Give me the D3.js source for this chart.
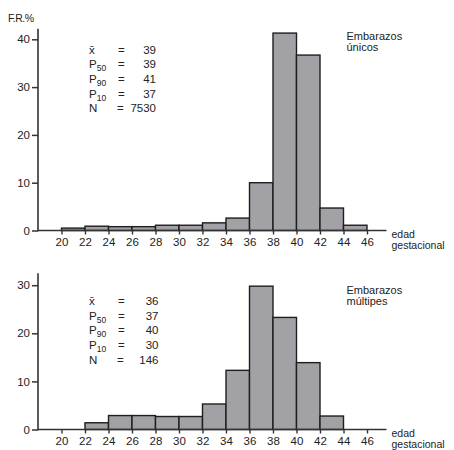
<!DOCTYPE html>
<html><head><meta charset="utf-8">
<script src="https://cdn.jsdelivr.net/npm/d3@7/dist/d3.min.js"></script>
<style>body{margin:0;background:#fff}svg{display:block}text{font-family:"Liberation Sans",Arial,sans-serif;fill:#222}</style>
</head><body><svg id="c" width="454" height="450"></svg>
<script>
const binStarts = [20,22,24,26,28,30,32,34,36,38,40,42,44];
const unicosValues = [0.5,0.9,0.8,0.8,1.1,1.1,1.6,2.6,10.0,41.3,36.7,4.7,1.1];
const multiplesValues = [0,1.4,2.9,2.9,2.7,2.7,5.3,12.3,29.8,23.3,13.9,2.8,0];
const xTicks = [20,22,24,26,28,30,32,34,36,38,40,42,44,46];
const unicosYTicks = [0,10,20,30,40];
const multiplesYTicks = [0,10,20,30];
const unicosStats = [["x̄","39"],["P","39","50"],["P","41","90"],["P","37","10"],["N","7530"]];
const multiplesStats = [["x̄","36"],["P","37","50"],["P","40","90"],["P","30","10"],["N","146"]];
const unicosTitle = ["Embarazos","únicos"];
const multiplesTitle = ["Embarazos","múltipes"];
const xTitle = ["edad","gestacional"];

const svg = d3.select("#c");
const x = d3.scaleLinear().domain([18,47.66]).range([38,386.5]);

function panel(o){
  const g = svg.append("g");
  const y = d3.scaleLinear().domain([0,o.ymax]).range([o.y0,o.y0-o.ymax*o.ppu]);
  g.selectAll("rect").data(binStarts.map((b,i)=>({b,v:o.values[i]})).filter(d=>d.v>0))
    .enter().append("rect")
    .attr("x",d=>x(d.b)).attr("width",d=>x(d.b+2)-x(d.b))
    .attr("y",d=>y(d.v)).attr("height",d=>y(0)-y(d.v))
    .attr("fill","#a2a2a6").attr("stroke","#1e1e1e").attr("stroke-width",1.4);
  const ya = d3.axisLeft(y).tickValues(o.yticks).tickSize(6).tickPadding(2);
  const yg = g.append("g").attr("transform",`translate(${x.range()[0]},0)`).call(ya);
  yg.select(".domain").remove();
  yg.selectAll(".tick line").attr("stroke","#333").attr("stroke-width",1.5);
  yg.selectAll("text").attr("font-size",11.5).attr("fill","#222").attr("font-family","Liberation Sans, Arial, sans-serif");
  g.append("line").attr("x1",x.range()[0]).attr("x2",x.range()[0])
    .attr("y1",y(0)+0.75).attr("y2",y(o.ytop)).attr("stroke","#333").attr("stroke-width",1.6);
  const xa = d3.axisBottom(x).tickValues(xTicks).tickSize(4).tickPadding(3);
  const xg = g.append("g").attr("transform",`translate(0,${y(0)})`).call(xa);
  xg.select(".domain").remove();
  xg.selectAll(".tick line").attr("stroke","#333").attr("stroke-width",1.4);
  xg.selectAll("text").attr("font-size",11.5).attr("fill","#222").attr("font-family","Liberation Sans, Arial, sans-serif");
  g.append("line").attr("x1",x.range()[0]).attr("x2",x.range()[1])
    .attr("y1",y(0)).attr("y2",y(0)).attr("stroke","#333").attr("stroke-width",1.6);
  o.stats.forEach((s,i)=>{
    const by = o.statY + i*14.7;
    const t = g.append("text").attr("x",89).attr("y",by).attr("font-size",11.5);
    t.append("tspan").text(s[0]);
    if(s[2]) t.append("tspan").attr("font-size",8.5).attr("dy",3).text(s[2]);
    g.append("text").attr("x", s[0]==="N" ? 117 : 118).attr("y",by).attr("font-size",11.5).text("=");
    g.append("text").attr("x",o.valX).attr("y",by).attr("text-anchor","end").attr("font-size",11.5).text(s[1]);
  });
  o.title.forEach((t,i)=>g.append("text").attr("x",346.5).attr("y",o.titleY+i*10.5).attr("font-size",11).text(t));
  xTitle.forEach((t,i)=>g.append("text").attr("x",391.5).attr("y",y(0)+7.5+i*10.5).attr("font-size",10.5).text(t));
}

svg.append("text").attr("x",8).attr("y",22).attr("font-size",10.5).attr("letter-spacing",-0.5).text("F.R.%");

panel({values:unicosValues,ymax:42,ytop:42.2,y0:230.5,ppu:4.78,yticks:unicosYTicks,stats:unicosStats,statY:53.5,valX:156,title:unicosTitle,titleY:40});
panel({values:multiplesValues,ymax:32.5,ytop:32.5,y0:429.5,ppu:4.81,yticks:multiplesYTicks,stats:multiplesStats,statY:305,valX:158.5,title:multiplesTitle,titleY:294});
</script></body></html>
